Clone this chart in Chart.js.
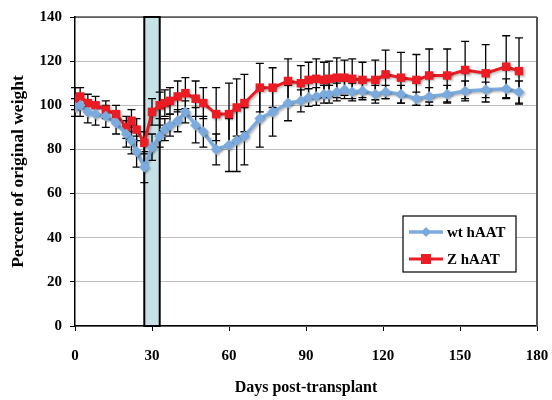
<!DOCTYPE html>
<html>
<head>
<meta charset="utf-8">
<script src="https://cdn.jsdelivr.net/npm/chart.js@4"></script>
<style>
  html, body { margin: 0; padding: 0; background: #fff; }
  #wrap { width: 552px; height: 400px; }
</style>
</head>
<body>
<div id="wrap"><canvas id="weightChart" width="552" height="400"></canvas></div>
<script>
// days after transplant (same for both groups)
var days = [0, 2, 5, 8, 12, 16, 20, 22, 24, 27, 30, 33, 35, 37, 40, 43, 47, 50, 55, 60, 63, 66,
            72, 77, 83, 88, 91, 94, 97, 99, 102, 105, 108, 112, 117, 121, 127, 133, 138, 145,
            152, 160, 168, 173];

var wtValues = [99, 100, 97, 96, 95, 92, 87, 84, 79, 72, 81, 86, 89, 91, 93, 97, 91, 88, 80, 82, 84, 86,
                94, 97, 101, 102, 103.5, 104, 105, 105, 106, 107, 106, 106.5, 105, 106, 105, 103, 104, 105,
                106.5, 107, 107.5, 106];
var wtErrors = [4, 5, 5, 5, 5, 5, 6, 6, 7, 7, 6, 5, 5, 5, 5, 5, 8, 7, 7, 12, 14, 13,
                13, 11, 8, 5, 4, 4, 4, 4, 4, 4, 4, 4, 4, 3, 4, 3, 4, 4,
                4.5, 3.5, 4.5, 5];

var zValues = [103, 104, 101, 100, 98, 96, 90, 93, 89, 83, 97, 100, 101, 102, 104, 105.5, 103, 101, 96, 96, 99, 101,
               108, 108, 111, 110, 111.5, 112, 111.5, 112, 112.5, 112.5, 112, 111.5, 111.5, 114, 112.5, 111.5, 113.5, 113.5,
               116, 114.5, 117.5, 115.5];
var zErrors = [5, 4, 4, 4, 4, 4, 5, 5, 5, 5, 6, 6, 6, 6, 7, 7, 8, 7, 12, 14, 13, 13,
               11, 9, 10, 8, 8, 9, 8, 8, 9, 8, 9, 8, 9, 11, 11.5, 11.5, 12, 12,
               13, 13, 14, 15];

var xTicks = [0, 30, 60, 90, 120, 150, 180];
var yTicks = [0, 20, 40, 60, 80, 100, 120, 140];

// shaded window on the x axis (days)
var boxStart = 27;
var boxEnd = 33;

var seriesNames = ['wt hAAT', 'Z hAAT'];
var blue = '#7BABDE';
var red = '#EC1C24';
var serif = '"Liberation Serif", "Times New Roman", serif';

function toPoints(vals) {
    return days.map(function(d, i) { return { x: d, y: vals[i] }; });
}

// light blue box behind the data
var boxPlugin = {
    id: 'box',
    beforeDatasetsDraw: function(chart) {
        var ctx = chart.ctx, x = chart.scales.x, a = chart.chartArea;
        var x0 = x.getPixelForValue(boxStart), x1 = x.getPixelForValue(boxEnd);
        ctx.save();
        ctx.fillStyle = '#C6E2E6';
        ctx.fillRect(x0, a.top, x1 - x0, a.bottom - a.top);
        ctx.strokeStyle = '#000';
        ctx.lineWidth = 2;
        ctx.strokeRect(x0, a.top, x1 - x0, a.bottom - a.top);
        ctx.restore();
    }
};

// error bars, drawn under the markers
var errorPlugin = {
    id: 'errbars',
    beforeDatasetsDraw: function(chart) {
        var ctx = chart.ctx, y = chart.scales.y;
        ctx.save();
        ctx.strokeStyle = '#000';
        ctx.lineWidth = 1.3;
        chart.data.datasets.forEach(function(ds, di) {
            var meta = chart.getDatasetMeta(di);
            meta.data.forEach(function(pt, i) {
                var v = ds.data[i].y, e = ds.errors[i];
                var top = y.getPixelForValue(v + e), bot = y.getPixelForValue(v - e);
                ctx.beginPath();
                ctx.moveTo(pt.x, top); ctx.lineTo(pt.x, bot);
                ctx.moveTo(pt.x - 4, top); ctx.lineTo(pt.x + 4, top);
                ctx.moveTo(pt.x - 4, bot); ctx.lineTo(pt.x + 4, bot);
                ctx.stroke();
            });
        });
        ctx.restore();
    },
    beforeDatasetDraw: function(chart) {
        var ctx = chart.ctx;
        ctx.save();
        ctx.shadowColor = 'rgba(0,0,0,0.25)';
        ctx.shadowBlur = 2;
        ctx.shadowOffsetX = 1.5;
        ctx.shadowOffsetY = 1.5;
    },
    afterDatasetDraw: function(chart) {
        chart.ctx.restore();
    }
};

// frame + legend box inside the plot
var framePlugin = {
    id: 'frame',
    afterDraw: function(chart) {
        var ctx = chart.ctx, a = chart.chartArea;
        ctx.save();
        ctx.strokeStyle = '#000';
        ctx.lineWidth = 1.2;
        ctx.beginPath();
        ctx.moveTo(a.left, a.top); ctx.lineTo(a.right, a.top);
        ctx.stroke();
        ctx.strokeStyle = '#555';
        ctx.lineWidth = 2;
        ctx.beginPath();
        ctx.moveTo(a.right, a.top); ctx.lineTo(a.right, a.bottom);
        ctx.stroke();

        // legend
        var lx = 403, ly = 216, lw = 113, lh = 56;
        ctx.fillStyle = '#fff';
        ctx.fillRect(lx, ly, lw, lh);
        ctx.strokeStyle = '#000';
        ctx.lineWidth = 1.2;
        ctx.strokeRect(lx, ly, lw, lh);
        var rows = [ly + 16, ly + 43];
        chart.data.datasets.forEach(function(ds, i) {
            var ry = rows[i];
            ctx.strokeStyle = ds.borderColor;
            ctx.lineWidth = ds.borderWidth;
            ctx.beginPath();
            ctx.moveTo(lx + 6, ry); ctx.lineTo(lx + 40, ry);
            ctx.stroke();
            ctx.fillStyle = ds.backgroundColor;
            ctx.beginPath();
            if (i === 0) {
                ctx.moveTo(lx + 23, ry - 5); ctx.lineTo(lx + 28, ry);
                ctx.lineTo(lx + 23, ry + 5); ctx.lineTo(lx + 18, ry);
            } else {
                ctx.rect(lx + 18, ry - 5, 10, 10);
            }
            ctx.fill();
            ctx.fillStyle = '#000';
            ctx.font = 'bold 15px ' + serif;
            ctx.textBaseline = 'middle';
            ctx.fillText(ds.label, lx + 44, ry + 1);
        });
        ctx.restore();
    }
};

document.addEventListener('DOMContentLoaded', function() {
    var ctx = document.getElementById('weightChart').getContext('2d');
    var weightChart = new Chart(ctx, {
        type: 'line',
        data: {
            datasets: [{
                label: seriesNames[0],
                data: toPoints(wtValues),
                errors: wtErrors,
                borderColor: blue,
                backgroundColor: blue,
                borderWidth: 3.5,
                pointStyle: 'rectRot',
                pointRadius: 5.5,
                pointBorderWidth: 0,
                tension: 0
            }, {
                label: seriesNames[1],
                data: toPoints(zValues),
                errors: zErrors,
                borderColor: red,
                backgroundColor: red,
                borderWidth: 3,
                pointStyle: 'rect',
                pointRadius: 6,
                pointBorderWidth: 0,
                tension: 0
            }]
        },
        options: {
            responsive: false,
            animation: false,
            layout: { padding: { left: 0, right: 15, top: 16, bottom: 0 } },
            plugins: {
                legend: { display: false },
                tooltip: { enabled: false }
            },
            scales: {
                x: {
                    type: 'linear',
                    min: 0,
                    max: 180,
                    afterBuildTicks: function(s) { s.ticks = xTicks.map(function(v) { return { value: v }; }); },
                    afterFit: function(s) { s.height = 74; s.paddingRight = 12; s.paddingLeft = 8; },
                    grid: { drawOnChartArea: false, tickLength: 5, tickColor: '#000' },
                    border: { color: '#000', width: 1.5 },
                    ticks: { color: '#000', padding: 16, font: { family: serif, size: 15, weight: 'bold' } },
                    title: {
                        display: true,
                        text: 'Days post-transplant',
                        color: '#000',
                        padding: { top: 4, bottom: 3 },
                        font: { family: serif, size: 16, weight: 'bold' }
                    }
                },
                y: {
                    min: 0,
                    max: 140,
                    afterBuildTicks: function(s) { s.ticks = yTicks.map(function(v) { return { value: v }; }); },
                    afterFit: function(s) { s.width = 75; },
                    grid: { color: '#BEBEBE', tickLength: 5, tickColor: '#000' },
                    border: { color: '#000', width: 1.5 },
                    ticks: { color: '#000', padding: 8, font: { family: serif, size: 15, weight: 'bold' } },
                    title: {
                        display: true,
                        text: 'Percent of original weight',
                        color: '#000',
                        padding: { top: 8, bottom: 2 },
                        font: { family: serif, size: 17.5, weight: 'bold' }
                    }
                }
            }
        },
        plugins: [boxPlugin, errorPlugin, framePlugin]
    });
});
</script>
</body>
</html>
